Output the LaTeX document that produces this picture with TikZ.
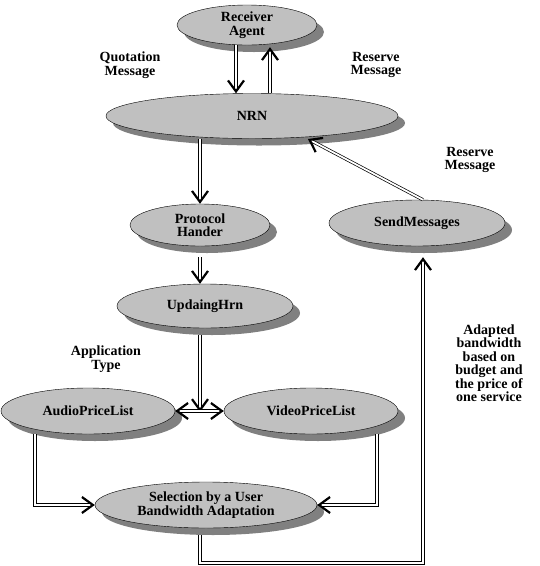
\documentclass[tikz,border=0pt]{standalone}
\usepackage{fontspec}
\setmainfont{Liberation Serif}
\usetikzlibrary{shapes,shadows,arrows.meta}

\begin{document}
\begin{tikzpicture}[x=1pt,y=-1pt,
		agent/.style={ellipse,draw,thin,fill=lightgray,inner sep=0pt,align=center,
			font=\bfseries\fontsize{14}{13.5}\selectfont,
			drop shadow={shadow xshift=7pt,shadow yshift=-7pt,fill=darkgray,opacity=1}},
		lbl/.style={align=center,inner sep=0pt,font=\bfseries\fontsize{14}{13.5}\selectfont},
		conn/.style={double,line width=0.7pt,double distance=1.8pt,
			-{Straight Barb[length=11pt,width=16pt,line width=2.2pt]}}]
		\definecolor{lightgray}{HTML}{C0C0C0}
		\definecolor{darkgray}{HTML}{808080}
		
		\fill[white] (0,0) rectangle (540,566);
		\useasboundingbox (0,0) rectangle (540,566);
		
		\node[agent,minimum width=140pt,minimum height=40pt] (recv) at (247,25) {Receiver\\Agent};
		\node[agent,minimum width=292pt,minimum height=45pt] (nrn) at (252,116) {NRN};
		\node[agent,minimum width=140pt,minimum height=42pt] (proto) at (200,225) {Protocol\\Hander};
		\node[agent,minimum width=176pt,minimum height=46pt] (send) at (417,223) {SendMessages};
		\node[agent,minimum width=176pt,minimum height=44pt] (updain) at (205,306) {UpdaingHrn};
		\node[agent,minimum width=174pt,minimum height=46pt] (audio) at (88,411) {AudioPriceList};
		\node[agent,minimum width=174pt,minimum height=46pt] (video) at (311,411) {VideoPriceList};
		\node[agent,minimum width=222pt,minimum height=46pt] (select) at (206,505) {Selection by a User\\Bandwidth Adaptation};
		
		\coordinate (junc) at (200,412);
		\coordinate (corner) at (423,563);
		
		\draw[conn] ([xshift=-11pt]recv.south) -- ([xshift=-11pt]recv.south |- nrn.north);
		\draw[conn] ([xshift=23pt]recv.south |- nrn.north) -- ([xshift=23pt,yshift=-2pt]recv.south);
		\draw[conn] (proto.north |- nrn.south) -- (proto.north);
		\draw[conn] ([yshift=-11pt]proto.south) -- (proto.south |- updain.north);
		\draw[conn] ([yshift=-7pt]junc |- updain.south) -- (junc);
		\draw[conn,{Straight Barb[length=11pt,width=16pt,line width=2.2pt]}-{Straight Barb[length=11pt,width=16pt,line width=2.2pt]}] (audio.east) -- (video.west);
		\draw[conn] ([xshift=-53pt]audio.south) |- (select.west);
		\draw[conn] ([xshift=66pt]video.south) |- (select.east);
		\draw[conn] ([xshift=-6pt,yshift=-7pt]select.south) |- (corner) -- ([xshift=6pt,yshift=-11pt]send.south);
		\draw[conn] ([xshift=6pt]send.north) -- ([xshift=56pt,yshift=-23pt]nrn.center);
		
		% labels
		\node[lbl] (quot) at (130,65) {Quotation\\Message};
		\node[lbl] (resup) at (376,65) {Reserve\\Message};
		\node[lbl] (resdown) at (470,160) {Reserve\\Message};
		\node[lbl] (apptype) at (106,359) {Application\\Type};
		\node[lbl] (adapt) at (489,363) {Adapted\\bandwidth\\based on\\budget and\\the price of\\one service};
\end{tikzpicture}
\end{document}
